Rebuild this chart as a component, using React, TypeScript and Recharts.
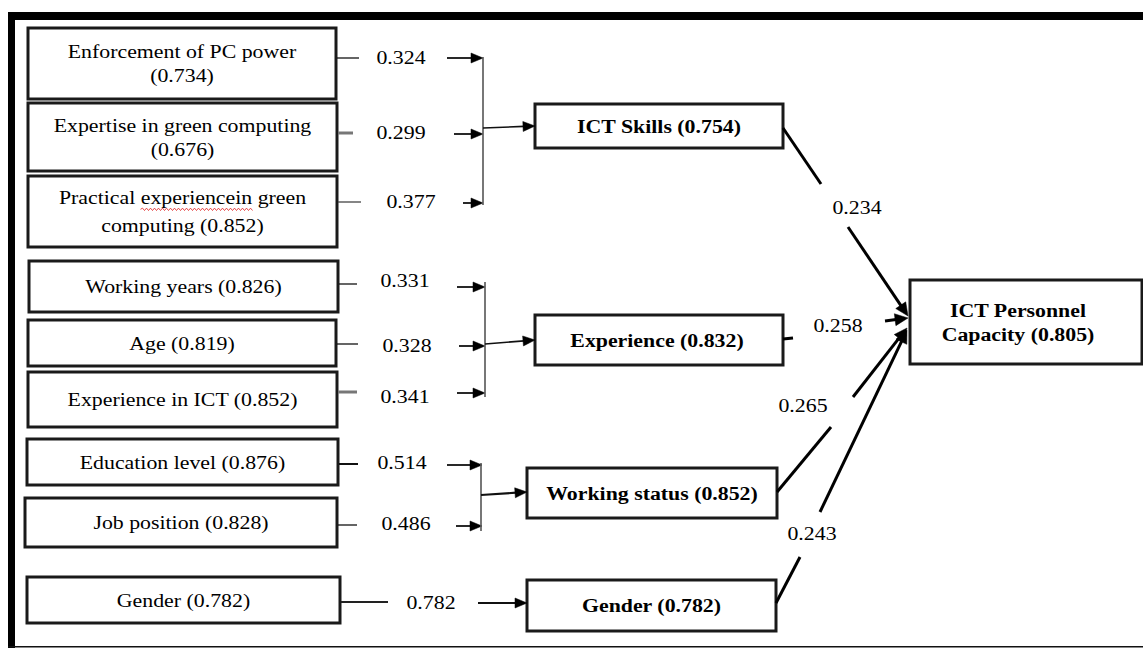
import React from 'react';
import { ComposedChart, XAxis, YAxis, ReferenceArea, ReferenceLine, Scatter } from 'recharts';

// ---------------- values ----------------
const indicatorNames = [
  'Enforcement of PC power',
  'Expertise in green computing',
  'Practical experiencein green computing',
  'Working years',
  'Age',
  'Experience in ICT',
  'Education level',
  'Job position',
  'Gender',
];
const indicatorLoadings = [0.734, 0.676, 0.852, 0.826, 0.819, 0.852, 0.876, 0.828, 0.782];
const indicatorWeights = [0.324, 0.299, 0.377, 0.331, 0.328, 0.341, 0.514, 0.486, 0.782];
const indicatorConstruct = [0, 0, 0, 1, 1, 1, 2, 2, 3];
const constructNames = ['ICT Skills', 'Experience', 'Working status', 'Gender'];
const constructValues = [0.754, 0.832, 0.852, 0.782];
const pathCoefficients = [0.234, 0.258, 0.265, 0.243];
const targetName = 'ICT Personnel Capacity';
const targetValue = 0.805;

// ---------------- layout (diagram units) ----------------
const W = 1143;
const H = 648;
const FS = 19.5;
const SX = 1.12;
const FONT = "'Liberation Serif','Times New Roman',serif";

type Box = { x1: number; x2: number; y1: number; y2: number; wrap?: number; lh?: number; dx?: number; dy?: number };

const INDICATOR_BOXES: Box[] = [
  { x1: 28, x2: 336, y1: 28, y2: 99, wrap: 4 },
  { x1: 28, x2: 337, y1: 103, y2: 171, wrap: 4 },
  { x1: 28, x2: 337, y1: 176, y2: 247, wrap: 3, lh: 28 },
  { x1: 29, x2: 338, y1: 261, y2: 312 },
  { x1: 28, x2: 336, y1: 320, y2: 366 },
  { x1: 28, x2: 337, y1: 372, y2: 427 },
  { x1: 27, x2: 338, y1: 439, y2: 485 },
  { x1: 25, x2: 337, y1: 498, y2: 547 },
  { x1: 27, x2: 340, y1: 577, y2: 623 },
];

const INDICATOR_LINKS = [
  { sy: 58, sx2: 359, lx: 401, ly: 57, ax1: 447, ay: 58, bx: 483, sw: 1.3, sc: '#111' },
  { sy: 133, sx2: 353, lx: 401, ly: 132, ax1: 454, ay: 134, bx: 483, sw: 3, sc: '#777' },
  { sy: 202, sx2: 361, lx: 411, ly: 201, ax1: 463, ay: 203, bx: 483, sw: 1.3, sc: '#444' },
  { sy: 284, sx2: 357, lx: 405, ly: 280, ax1: 457, ay: 287, bx: 485, sw: 1.3, sc: '#111' },
  { sy: 344, sx2: 358, lx: 407, ly: 345, ax1: 459, ay: 346, bx: 485, sw: 1.3, sc: '#111' },
  { sy: 392, sx2: 357, lx: 405, ly: 396, ax1: 457, ay: 393, bx: 485, sw: 3, sc: '#777' },
  { sy: 464, sx2: 358, lx: 402, ly: 462, ax1: 447, ay: 465, bx: 482, sw: 2, sc: '#111' },
  { sy: 525, sx2: 357, lx: 406, ly: 523, ax1: 456, ay: 526, bx: 482, sw: 1.3, sc: '#111' },
  { sy: 602, sx2: 388, lx: 431, ly: 602, ax1: 478, ay: 603, bx: 527, sw: 2, sc: '#222' },
];

const BRACKETS = [
  { x: 483, y1: 57, y2: 205, fy: 128, tx: 535, ty: 126 },
  { x: 485, y1: 282, y2: 397, fy: 344, tx: 535, ty: 340 },
  { x: 481, y1: 463, y2: 531, fy: 495, tx: 527, ty: 492 },
];

const CONSTRUCT_BOXES: Box[] = [
  { x1: 535, x2: 783, y1: 104, y2: 148 },
  { x1: 535, x2: 783, y1: 315, y2: 365, dx: -2 },
  { x1: 527, x2: 777, y1: 468, y2: 518 },
  { x1: 527, x2: 776, y1: 580, y2: 631 },
];

const TARGET_BOX: Box = { x1: 910, x2: 1142, y1: 280, y2: 364, wrap: 2, dx: -8 };

const PATH_LINKS = [
  { from: [783, 128], gapA: [821, 184], gapB: [848, 227], to: [908, 316], lx: 857, ly: 207 },
  { from: [783, 339], gapA: [793, 338], gapB: [885, 321], to: [908, 318], lx: 838, ly: 325 },
  { from: [777, 492], gapA: [831, 427], gapB: [853, 397], to: [907, 328], lx: 803, ly: 405 },
  { from: [776, 603], gapA: [800, 557], gapB: [820, 512], to: [907, 330], lx: 812, ly: 533 },
];

// ---------------- helpers ----------------
function wrapLabel(name: string, value: number, wrap?: number): string[] {
  const full = `${name} (${value.toFixed(3)})`;
  if (!wrap) return [full];
  const words = full.split(' ');
  return [words.slice(0, wrap).join(' '), words.slice(wrap).join(' ')];
}

function SerifText({ x, y, text, bold }: { x: number; y: number; text: string; bold?: boolean }) {
  return (
    <text
      transform={`translate(${x},${y}) scale(${SX},1)`}
      textAnchor="middle"
      fontFamily={FONT}
      fontSize={FS}
      fontWeight={bold ? 700 : 400}
      fill="#000"
    >
      {text}
    </text>
  );
}

function makeBoxShape(lines: string[], bold: boolean, box: Box, squiggle?: [number, number, number]) {
  return (props: any) => {
    const { x, y, width, height } = props;
    const cx = x + width / 2 + (box.dx || 0);
    const cy = y + height / 2 + (box.dy || 0);
    const lh = box.lh || 24;
    const n = lines.length;
    let sq: string | null = null;
    if (squiggle) {
      const [a, b, off] = squiggle;
      const by = cy + FS * 0.35 - ((n - 1) / 2) * lh + off;
      let d = `M${cx + a},${by}`;
      let up = true;
      for (let px = cx + a + 2; px <= cx + b; px += 2) {
        d += `L${px},${by + (up ? -1.2 : 1.2)}`;
        up = !up;
      }
      sq = d;
    }
    return (
      <g>
        <rect x={x} y={y} width={width} height={height} fill="#fff" stroke="#1a1a1a" strokeWidth={3} />
        {lines.map((t, i) => (
          <SerifText key={i} x={cx} y={cy + FS * 0.35 + (i - (n - 1) / 2) * lh} text={t} bold={bold} />
        ))}
        {sq && <path d={sq} fill="none" stroke="#e02020" strokeWidth={0.8} />}
      </g>
    );
  };
}

function makeSeg(width: number, color: string, arrow?: { len: number; half: number }) {
  return (props: any) => {
    const { x1, y1, x2, y2 } = props;
    if (!arrow) {
      return <line x1={x1} y1={y1} x2={x2} y2={y2} stroke={color} strokeWidth={width} />;
    }
    const a = Math.atan2(y2 - y1, x2 - x1);
    const bx = x2 - arrow.len * Math.cos(a);
    const by = y2 - arrow.len * Math.sin(a);
    const px = -Math.sin(a) * arrow.half;
    const py = Math.cos(a) * arrow.half;
    return (
      <g>
        <line x1={x1} y1={y1} x2={bx + Math.cos(a)} y2={by + Math.sin(a)} stroke={color} strokeWidth={width} />
        <path d={`M${x2},${y2}L${bx + px},${by + py}L${bx - px},${by - py}Z`} fill="#000" stroke="#000" strokeWidth={0.5} />
      </g>
    );
  };
}

const seg = (a: number[], b: number[]) => [{ x: a[0], y: a[1] }, { x: b[0], y: b[1] }];

// edge label points
const weightLabels = indicatorWeights.map((w, i) => ({ x: INDICATOR_LINKS[i].lx, y: INDICATOR_LINKS[i].ly, text: w.toFixed(3) }));
const pathLabels = pathCoefficients.map((p, i) => ({ x: PATH_LINKS[i].lx, y: PATH_LINKS[i].ly, text: p.toFixed(3) }));

const LabelShape = (props: any) => {
  const { cx, cy, payload } = props;
  return <SerifText x={cx} y={cy + FS * 0.35} text={payload.text} />;
};

export default function App() {
  const smallArrow = { len: 12, half: 5 };
  const bigArrow = { len: 13, half: 6 };
  return (
    <div style={{ position: 'absolute', left: 0, top: 0, width: W, height: H, background: '#fff' }}>
      <ComposedChart width={W} height={H} margin={{ top: 0, right: 0, bottom: 0, left: 0 }}>
        <XAxis type="number" dataKey="x" domain={[0, W]} hide allowDataOverflow />
        <YAxis type="number" dataKey="y" domain={[0, H]} reversed hide allowDataOverflow />

        {/* frame */}
        <ReferenceArea x1={8} x2={W} y1={12} y2={20} fill="#000" fillOpacity={1} stroke="none" ifOverflow="visible" />
        <ReferenceArea x1={8} x2={15} y1={12} y2={H} fill="#000" fillOpacity={1} stroke="none" ifOverflow="visible" />
        <ReferenceArea x1={8} x2={W} y1={646} y2={647.5} fill="#111" fillOpacity={1} stroke="none" ifOverflow="visible" />

        {/* indicator boxes */}
        {indicatorNames.map((name, i) => {
          const b = INDICATOR_BOXES[i];
          const lines = wrapLabel(name, indicatorLoadings[i], b.wrap);
          return (
            <ReferenceArea
              key={`ib${i}`}
              x1={b.x1}
              x2={b.x2}
              y1={b.y1}
              y2={b.y2}
              ifOverflow="visible"
              shape={makeBoxShape(lines, false, b, i === 2 ? [-42, 70, 5] : undefined)}
            />
          );
        })}

        {/* construct boxes */}
        {constructNames.map((name, i) => {
          const b = CONSTRUCT_BOXES[i];
          return (
            <ReferenceArea
              key={`cb${i}`}
              x1={b.x1}
              x2={b.x2}
              y1={b.y1}
              y2={b.y2}
              ifOverflow="visible"
              shape={makeBoxShape(wrapLabel(name, constructValues[i]), true, b)}
            />
          );
        })}

        {/* target box */}
        <ReferenceArea
          x1={TARGET_BOX.x1}
          x2={TARGET_BOX.x2}
          y1={TARGET_BOX.y1}
          y2={TARGET_BOX.y2}
          ifOverflow="visible"
          shape={makeBoxShape(wrapLabel(targetName, targetValue, TARGET_BOX.wrap), true, TARGET_BOX)}
        />

        {/* indicator -> bracket links */}
        {INDICATOR_LINKS.map((l, i) => {
          const b = INDICATOR_BOXES[i];
          return (
            <ReferenceLine key={`st${i}`} segment={seg([b.x2 + 1, l.sy], [l.sx2, l.sy])} ifOverflow="visible" shape={makeSeg(l.sw, l.sc)} />
          );
        })}
        {INDICATOR_LINKS.map((l, i) => (
          <ReferenceLine
            key={`ar${i}`}
            segment={seg([l.ax1, l.ay], [l.bx, l.ay])}
            ifOverflow="visible"
            shape={makeSeg(indicatorConstruct[i] === 3 ? 2.2 : 1.8, '#111', smallArrow)}
          />
        ))}

        {/* brackets */}
        {BRACKETS.map((b, i) => (
          <ReferenceLine key={`bk${i}`} segment={seg([b.x, b.y1], [b.x, b.y2])} ifOverflow="visible" shape={makeSeg(1.6, '#555')} />
        ))}
        {BRACKETS.map((b, i) => (
          <ReferenceLine
            key={`bm${i}`}
            segment={seg([b.x, b.fy], [b.tx, b.ty])}
            ifOverflow="visible"
            shape={makeSeg(i === 2 ? 2.2 : 1.6, '#111', smallArrow)}
          />
        ))}

        {/* structural paths */}
        {PATH_LINKS.map((p, i) => (
          <ReferenceLine key={`pa${i}`} segment={seg(p.from, p.gapA)} ifOverflow="visible" shape={makeSeg(3, '#000')} />
        ))}
        {PATH_LINKS.map((p, i) => (
          <ReferenceLine key={`pb${i}`} segment={seg(p.gapB, p.to)} ifOverflow="visible" shape={makeSeg(3, '#000', bigArrow)} />
        ))}

        {/* coefficient labels */}
        <Scatter data={weightLabels} shape={LabelShape} isAnimationActive={false} />
        <Scatter data={pathLabels} shape={LabelShape} isAnimationActive={false} />
      </ComposedChart>
    </div>
  );
}
